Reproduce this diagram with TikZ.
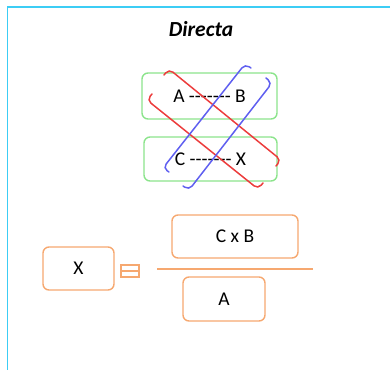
\documentclass[tikz,border=0pt]{standalone}
\usepackage{fontspec}
\setmainfont{Carlito}

\definecolor{framecyan}{RGB}{60, 205, 245}
\definecolor{boxgreen}{RGB}{140, 228, 140}
\definecolor{boxorange}{RGB}{246, 168, 112}
\definecolor{crossred}{RGB}{236, 60, 60}
\definecolor{crossblue}{RGB}{95, 95, 240}

\tikzset{
	greenbox/.style = {draw = boxgreen, line width = 1.4pt, rounded corners = 6pt, inner sep = 0pt},
	orangebox/.style = {draw = boxorange, line width = 1.4pt, rounded corners = 6pt, inner sep = 0pt},
	bracket/.style = {line width = 1.5pt, rounded corners = 5pt, line cap = round},
	boxtext/.style = {font = \fontsize{19.5}{22}\selectfont}
}

\begin{document}
\begin{tikzpicture}[x = 1pt, y = -1pt]

	\useasboundingbox (0, 0) rectangle (390, 370);

	% Frame

	\coordinate (frameTL) at (7.5, 7);
	\coordinate (frameTR) at (390, 7);
	\coordinate (frameBL) at (7.5, 370);
	\draw [framecyan, line width = 1.8pt] (frameTR) -- (frameTL) -- (frameBL);

	% Title

	\node [font = \fontsize{21.5}{24}\selectfont\bfseries\itshape] (title) at (201, 29) {Directa};

	% Proportion

	\node [greenbox, boxtext, minimum width = 135, minimum height = 46] (ab) at (209.5, 96) {A -{}-{}-{}-{}-{}-{}- B};
	\node [greenbox, boxtext, minimum width = 133, minimum height = 44] (cx) at (210.5, 159) {C -{}-{}-{}-{}-{}-{}- X};

	% Crosses

	\draw [bracket, crossred] (164, 75) -- (169, 69) -- (281, 160) -- (276, 166);
	\draw [bracket, crossred] (152, 94) -- (147, 100) -- (258, 189) -- (263, 183);
	\draw [bracket, crossblue] (169, 172) -- (163, 168) -- (245, 64) -- (251, 68);
	\draw [bracket, crossblue] (266, 78) -- (272, 83) -- (189, 190) -- (183, 186);

	% Rule of three

	\node [orangebox, boxtext, minimum width = 71, minimum height = 43] (x) at (78.5, 268.5) {X};
	\node [draw = boxorange, line width = 1.4pt, minimum width = 18, minimum height = 12, inner sep = 0pt] (eq) at (130, 271) {};
	\draw [boxorange, line width = 1.4pt] (eq.west) -- (eq.east);
	\node [orangebox, boxtext, minimum width = 126, minimum height = 43] (cb) at (235, 236.5) {C x B};
	\coordinate (fracL) at (157, 269);
	\coordinate (fracR) at (313, 269);
	\draw [boxorange, line width = 1.4pt] (fracL) -- (fracR);
	\node [orangebox, boxtext, minimum width = 82, minimum height = 44] (a) at (224, 299) {A};

\end{tikzpicture}
\end{document}
